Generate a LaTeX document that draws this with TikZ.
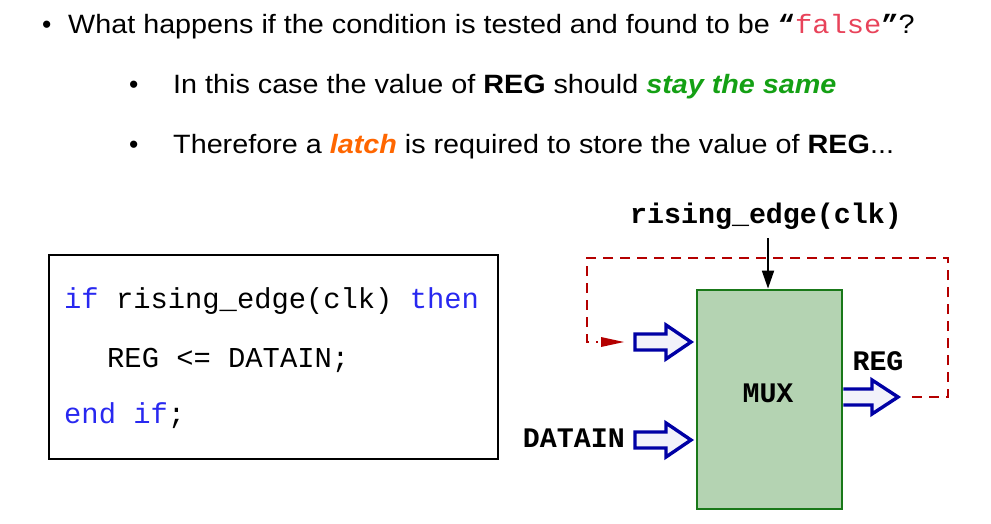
\documentclass[tikz,border=0pt]{standalone}
\usepackage{fontspec}
\setmainfont{Liberation Sans}
\setmonofont{Liberation Mono}
\usetikzlibrary{arrows.meta,calc}
\definecolor{kwblue}{RGB}{40,40,240}
\definecolor{falsered}{RGB}{232,67,90}
\definecolor{stgreen}{RGB}{20,160,20}
\definecolor{latchorange}{RGB}{255,102,0}
\definecolor{muxfill}{RGB}{180,211,178}
\definecolor{muxedge}{RGB}{25,120,25}
\definecolor{busblue}{RGB}{0,0,165}
\definecolor{busfill}{RGB}{242,242,250}
\definecolor{loopred}{RGB}{180,0,0}
% slightly widened sans text
\newcommand{\widetext}[1]{\scalebox{1.085}[1]{#1}}
\begin{document}
\begin{tikzpicture}[x=1pt,y=-1pt,
  txt/.style={anchor=base west,inner sep=0pt,font=\fontsize{26.5}{30}\selectfont},
  code/.style={anchor=base west,inner sep=0pt,font=\ttfamily\fontsize{28.8}{30}\selectfont},
  sig/.style={anchor=base,inner sep=0pt,font=\ttfamily\bfseries\fontsize{28.3}{30}\selectfont},
  bus/.style={draw=busblue,fill=busfill,line width=3.4pt,line join=miter},
  loop/.style={draw=loopred,line width=2.4pt,dash pattern=on 10pt off 7pt}]
\useasboundingbox (0,0) rectangle (991,523);

% bullet text
\node[txt] (b1) at (42,33) {\textbullet};
\node[txt] (l1) at (68,33) {\widetext{What happens if the condition is tested and found to be
  {\ttfamily\bfseries“}{\ttfamily\color{falsered}false}{\ttfamily\bfseries”}?}};
\node[txt] (b2) at (129,93) {\textbullet};
\node[txt] (l2) at (173,93) {\widetext{In this case the value of \textbf{REG} should
  {\color{stgreen}\bfseries\itshape stay the same}}};
\node[txt] (b3) at (129,153) {\textbullet};
\node[txt] (l3) at (173,153) {\widetext{Therefore a {\color{latchorange}\bfseries\itshape latch}
  is required to store the value of \textbf{REG}...}};

% code box
\node[draw,line width=2.4pt,minimum width=449pt,minimum height=204pt,inner sep=0pt]
  (codebox) at (273.5,357) {};
\node[code] (c1) at (64,308) {{\color{kwblue}if} rising\_edge(clk) {\color{kwblue}then}};
\node[code] (c2) at (107,367) {REG <= DATAIN;};
\node[code] (c3) at (64,423) {{\color{kwblue}end if};};

% multiplexer block
\node[draw=muxedge,fill=muxfill,line width=2.8pt,minimum width=145pt,
  minimum height=219pt,inner sep=0pt] (mux) at (769.5,399.5) {};
\node[sig] (muxlbl) at (768,402.5) {MUX};

% clock
\node[sig] (clk) at (766,223) {rising\_edge(clk)};
\coordinate (clktop) at (768,238);
\draw[line width=1.8pt,-{Triangle[length=18pt,width=12pt]}] (clktop) -- (clktop |- mux.north);

% bus arrows
\coordinate (in1) at (691,342);
\coordinate (in2) at (691,440);
\coordinate (out) at (898,397);
\foreach \t in {in1,in2}{
  \draw[bus] ($(\t)+(-56,-8)$) -- ++(31,0) -- ++(0,-9) -- (\t) -- ++(-25,17) -- ++(0,-9) -- ++(-31,0) -- cycle;
}
\draw[bus] (mux.east |- 0,389) -- (872,389) -- (872,380) -- (out) -- (872,414) -- (872,405) -- (mux.east |- 0,405);

\node[sig] (reglbl) at (878,370) {REG};
\node[sig,anchor=base east] (dlbl) at (625,447) {DATAIN};

% feedback path
\coordinate (fbstart) at (912,397);
\coordinate (fbend) at (624,342);
\draw[loop] (fbstart) -- (948,397) -- (948,258) -- (587,258) -- (587,342) -- (598,342);
\fill[loopred] (fbend) -- ++(-23,-5) -- ++(0,10) -- cycle;
\end{tikzpicture}
\end{document}
